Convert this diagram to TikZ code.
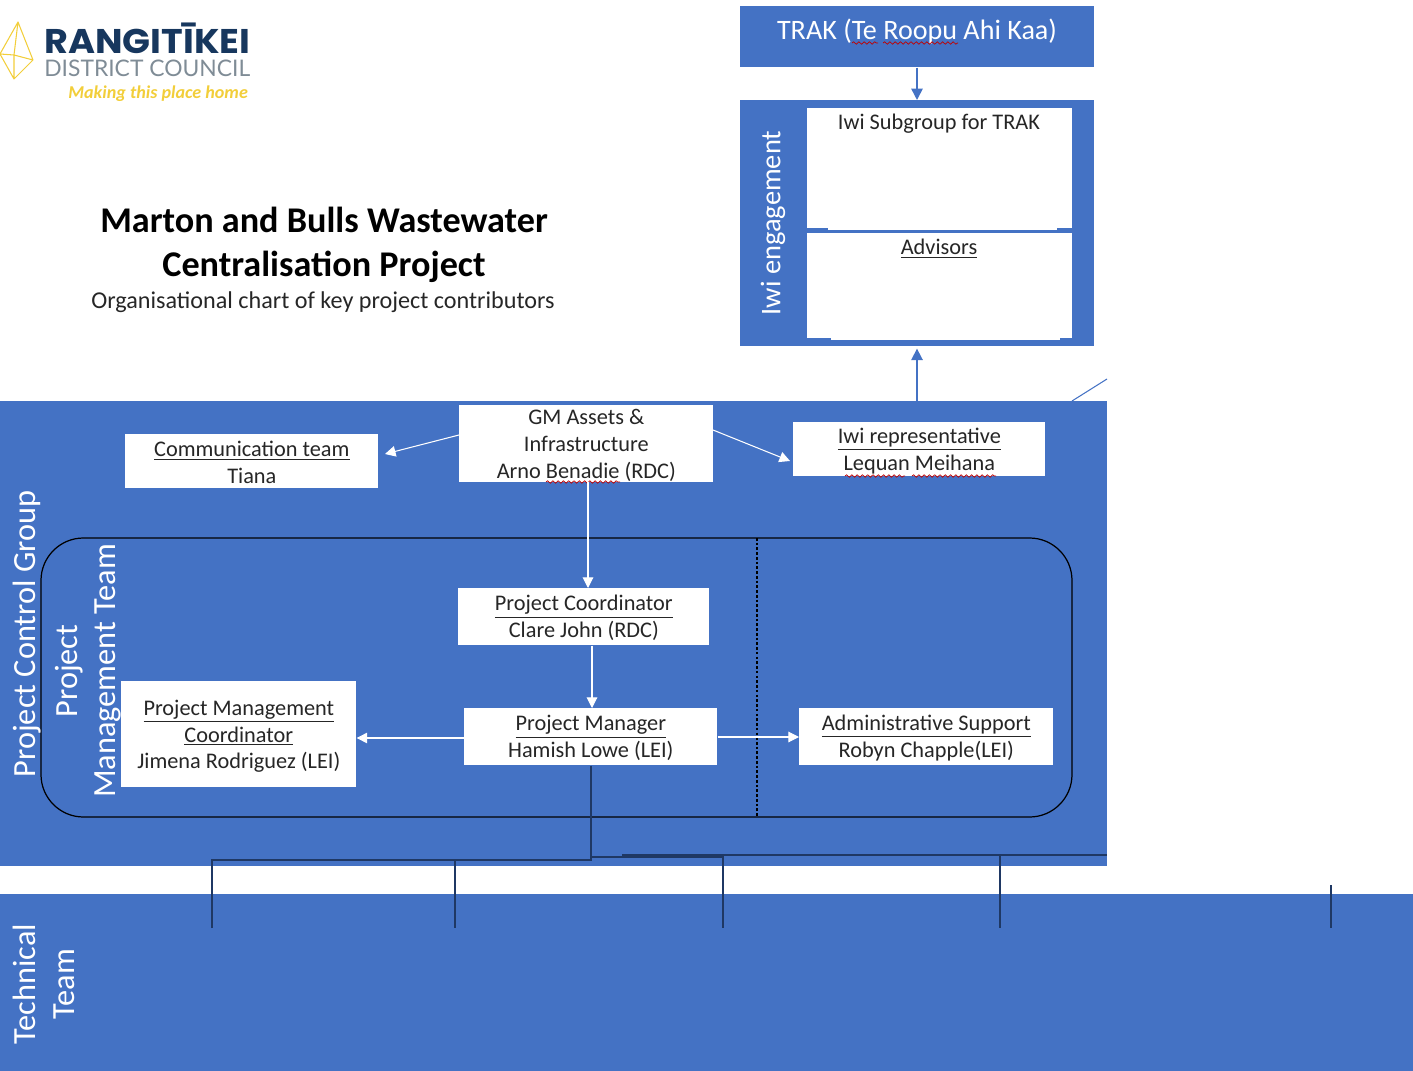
\documentclass[tikz,border=0pt]{standalone}
\usepackage{fontspec}
\usepackage{xcolor}
\usetikzlibrary{arrows.meta,decorations.pathmorphing}
\setmainfont{Carlito}
\newfontfamily\logobold{Poppins}
\newfontfamily\logolight{Lato}
\definecolor{panel-blue}{HTML}{4472C4}
\definecolor{line-navy}{HTML}{1F3864}
\definecolor{logo-navy}{HTML}{17375E}
\definecolor{logo-gray}{HTML}{7F8C96}
\definecolor{logo-yellow}{HTML}{F2CE3A}
\tikzset{
    panel/.style = {fill=panel-blue, draw=none, rectangle, inner sep=0pt},
    white-box/.style = {fill=white, draw=none, rectangle, inner sep=0pt, align=center, text=black!85, font=\fontsize{12.7}{15.3}\selectfont, text height=11.7pt},
    two-lines/.style = {white-box, text height=25.6pt},
    three-lines/.style = {white-box, text height=41.5pt},
    side-label/.style = {rotate=90, text=white, align=center, inner sep=0pt, font=\fontsize{18.4}{22}\selectfont},
    white-arrow/.style = {draw=white, line width=0.6pt, -{Triangle[length=6pt,width=6pt]}},
    blue-arrow/.style = {draw=panel-blue, line width=0.9pt, -{Triangle[length=6.5pt,width=6.5pt]}},
    navy-line/.style = {draw=line-navy, line width=0.8pt},
    squiggle/.style = {draw=red!75!black, line width=0.4pt, decorate, decoration={snake, amplitude=0.7pt, segment length=3pt}},
}
\begin{document}
\begin{tikzpicture}[x=0.02cm, y=-0.02cm]
\useasboundingbox (0,0) rectangle (1413,1071);

% logo
\draw[logo-yellow, line width=0.6pt, line join=round] (18,22) -- (0,54) -- (14,79) -- (33,60) -- cycle (18,22) -- (14,55) -- (14,79) (14,55) -- (33,60) (0,54) -- (14,55);
\node[anchor=west, inner sep=0pt, text=logo-navy, font=\logobold\bfseries\fontsize{19.5}{20}\selectfont, xscale=1.07] (logo-name) at (44,38) {RANGITĪKEI};
\node[anchor=west, inner sep=0pt, text=logo-gray, font=\logolight\fontsize{13}{14}\selectfont] (logo-council) at (44,68) {DISTRICT COUNCIL};
\node[anchor=west, inner sep=0pt, text=logo-yellow, font=\bfseries\itshape\fontsize{10.3}{11}\selectfont] (logo-motto) at (68,94) {Making this place home};

% title
\node[align=center, inner sep=0pt, text=black, font=\bfseries\fontsize{20.6}{25}\selectfont] (title) at (324,245) {Marton and Bulls Wastewater\\Centralisation Project};
\node[inner sep=0pt, text=black!85, font=\fontsize{13.75}{15}\selectfont] (subtitle) at (323,302) {Organisational chart of key project contributors};

% panels
\node[panel, anchor=north west, minimum width=7.08cm, minimum height=1.22cm] (trak) at (740,6) {};
\node[text=white, inner sep=0pt, font=\fontsize{16}{18}\selectfont] (trak-text) at (917,31) {TRAK (Te Roopu Ahi Kaa)};
\node[panel, anchor=north west, minimum width=7.08cm, minimum height=4.92cm] (iwi) at (740,100) {};
\node[panel, anchor=north west, minimum width=22.14cm, minimum height=9.3cm] (control) at (0,401) {};
\node[panel, anchor=north west, minimum width=28.26cm, minimum height=3.54cm] (technical) at (0,894) {};

\node[white-box, anchor=north west, minimum width=5.3cm, minimum height=2.4cm] (subgroup) at (807,108) {};
\node[white-box, anchor=north] (subgroup-text) at (939,109) {Iwi Subgroup for TRAK};
\node[white-box, anchor=north west, minimum width=5.3cm, minimum height=2.1cm] (advisors) at (807,233) {};
\node[white-box, anchor=north] (advisors-text) at (939,234) {\underline{Advisors}};
\fill[white] (828,228) rectangle (1057,230);
\fill[white] (831,338) rectangle (1060,340);

% project management outline
\draw[black, line width=0.7pt, rounded corners=0.85cm] (41,538) rectangle (1072,817);
\draw[black, line width=0.7pt, dash pattern=on 1.5pt off 1.2pt] (757,538) -- (757,817);

% people
\node[two-lines, anchor=north west, minimum width=5.06cm, minimum height=1.08cm] (comms) at (125,434) {\underline{Communication team}\\Tiana};
\node[three-lines, anchor=north west, minimum width=5.08cm, minimum height=1.54cm] (gm) at (459,405) {GM Assets \&\\Infrastructure\\Arno Benadie (RDC)};
\node[two-lines, anchor=north west, minimum width=5.04cm, minimum height=1.08cm] (iwi-rep) at (793,422) {\underline{Iwi representative}\\Lequan Meihana};
\node[two-lines, anchor=north west, minimum width=5.02cm, minimum height=1.14cm] (coordinator) at (458,588) {\underline{Project Coordinator}\\Clare John (RDC)};
\node[two-lines, anchor=north west, minimum width=5.06cm, minimum height=1.14cm] (manager) at (464,708) {\underline{Project Manager}\\Hamish Lowe (LEI)};
\node[two-lines, anchor=north west, minimum width=5.08cm, minimum height=1.14cm] (admin) at (799,708) {\underline{Administrative Support}\\Robyn Chapple(LEI)};
\node[three-lines, anchor=north west, minimum width=4.7cm, minimum height=2.12cm] (pm-coord) at (121,681) {\underline{Project Management}\\\underline{Coordinator}\\Jimena Rodriguez (LEI)};

% side labels
\node[side-label, font=\fontsize{16.2}{18}\selectfont] (iwi-label) at (773,223) {Iwi engagement};
\node[side-label] (control-label) at (27,634) {Project Control Group};
\node[side-label] (team-label) at (88,671) {Project\\Management Team};
\node[side-label] (tech-label) at (44,984) {Technical\\Team};

% spelling marks
\draw[squiggle] (852,43) -- (878,43);
\draw[squiggle] (883,43) -- (958,43);
\draw[squiggle] (546,482) -- (620,482);
\draw[squiggle] (845,476) -- (905,476);
\draw[squiggle] (912,476) -- (996,476);

% arrows
\draw[blue-arrow] (trak.south -| trak-text) -- (iwi.north -| trak-text);
\draw[blue-arrow] (control.north -| trak-text) -- ([yshift=-0.04cm]iwi.south -| trak-text);
\coordinate (stub-top) at (1107,379);
\coordinate (stub-foot) at (1072,401);
\draw[panel-blue, line width=0.6pt] (stub-foot) -- (stub-top);
\coordinate (comms-tip) at (385,454);
\coordinate (rep-tip) at (790,461);
\coordinate (gm-left) at (459,435);
\coordinate (gm-right) at (713,430);
\draw[white-arrow] (gm-left) -- (comms-tip);
\draw[white-arrow] (gm-right) -- (rep-tip);
\draw[white-arrow] (588,482) -- (coordinator.north -| 588,482);
\draw[white-arrow] (coordinator.south -| 592,645) -- (manager.north -| 592,645);
\draw[white-arrow] (manager.west |- 0,738) -- (pm-coord.east |- 0,738);
\draw[white-arrow] (manager.east |- 0,737) -- (admin.west |- 0,737);

% technical team links
\coordinate (bus-left) at (212,860);
\coordinate (bus-mid) at (455,860);
\coordinate (bus-drop) at (591,860);
\coordinate (bus-step) at (591,857);
\coordinate (bus-right) at (723,857);
\coordinate (bus-upper) at (622,855);
\coordinate (bus-end) at (1107,855);
\coordinate (bus-far) at (1000,855);
\coordinate (leg-far) at (1331,885);
\draw[navy-line, line width=1.4pt] (manager.south -| bus-drop) -- (bus-drop);
\draw[navy-line] (212,928) -- (bus-left) -- (bus-drop) -- (bus-step) -- (bus-right) -- (723,928);
\draw[navy-line] (bus-mid) -- (455,928);
\draw[navy-line] (bus-upper) -- (bus-end);
\draw[navy-line] (bus-far) -- (1000,928);
\draw[navy-line] (leg-far) -- (1331,928);
\end{tikzpicture}
\end{document}
